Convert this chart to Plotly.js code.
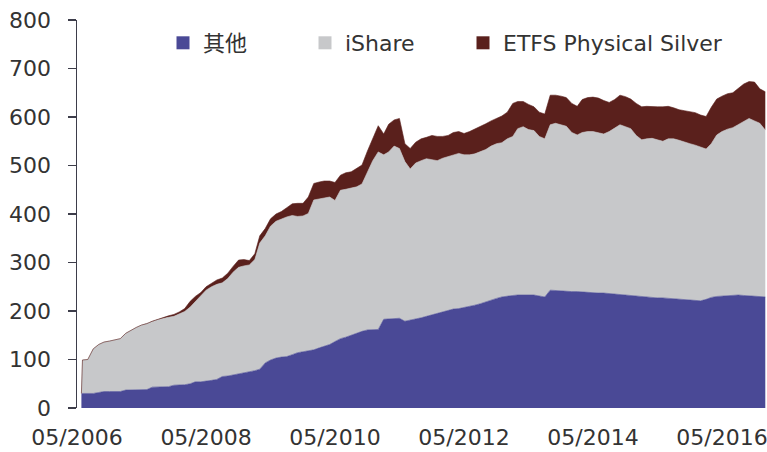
<!DOCTYPE html>
<html>
<head>
<meta charset="utf-8">
<script src="https://cdn.plot.ly/plotly-3.0.1.min.js"></script>
<style>html,body{margin:0;padding:0;background:#fff;}#chart{width:767px;height:452px;}</style>
</head>
<body>
<div id="chart"></div>
<script>
// Series names
const seriesNames = ['其他', 'iShare', 'ETFS Physical Silver'];

// Monthly observations from 2006-06 to 2017-01 (first entry: 2006-05-26 start)
const startDate = '2006-05-26';

// 其他 (others)
const others = [30,
  30,30,30,32,34,34,34,34,37,37,37,37,38,43,43,43,44,47,47,48,
  50,54,54,55,57,59,65,66,68,70,73,75,77,80,93,99,103,105,106,110,
  114,116,118,120,124,127,131,137,143,146,150,155,158,161,162,162,183,184,185,185,
  179,181,184,186,189,192,195,199,202,204,205,207,209,212,215,219,222,226,229,231,
  232,233,233,233,233,231,229,243,242,241,240,240,240,239,239,238,237,237,236,234,
  233,232,231,230,229,228,228,227,227,226,226,225,224,223,222,221,224,228,230,231,
  232,233,233,232,231,230,230,229];

// iShare
const ishare = [0,
  69,70,92,99,102,104,106,109,117,123,129,134,136,135,139,142,143,142,147,151,
  158,165,176,188,193,196,193,201,212,220,220,220,229,260,262,276,282,285,288,287,
  281,280,283,309,307,306,304,291,306,305,303,301,304,324,348,366,339,344,355,350,
  329,312,321,324,325,320,315,316,316,318,320,315,313,312,313,314,318,319,318,324,
  328,343,347,341,339,329,326,341,345,343,341,328,323,329,331,332,331,328,334,344,
  351,348,345,332,324,327,328,326,323,329,329,327,324,322,320,317,310,317,333,339,
  343,345,352,360,366,362,357,344];

// ETFS Physical Silver
const etfs = [0,
  0,0,0,0,0,0,0,0,0,0,0,0,0,1,1,2,3,4,4,6,
  12,11,8,7,8,9,10,11,12,15,13,9,12,15,15,15,15,15,19,24,
  27,26,34,34,35,35,33,37,31,34,34,39,39,45,45,54,43,57,54,62,
  37,42,43,45,44,50,50,45,44,46,45,44,48,51,53,53,52,52,55,55,
  68,56,52,52,49,50,51,61,58,59,59,60,59,68,70,71,71,69,60,58,
  61,62,61,66,68,67,65,68,71,67,64,63,65,66,67,66,67,75,74,73,
  73,72,75,76,76,80,71,79];

// x-axis ticks
const tickVals = ['2006-05-01','2008-05-01','2010-05-01','2012-05-01','2014-05-01','2016-05-01'];
const tickText = ['05/2006','05/2008','05/2010','05/2012','05/2014','05/2016'];

const colors = ['#4a4996', '#c7c8ca', '#5a201c'];

// Build date axis: start point, then first of each month from 2006-06
const dates = [startDate];
for (let i = 0; i < others.length - 1; i++) {
  const y = 2006 + Math.floor((5 + i) / 12);
  const mo = ((5 + i) % 12) + 1;
  dates.push(y + '-' + String(mo).padStart(2, '0') + '-01');
}

const FONT = 'DejaVu Sans, Noto Sans CJK SC, sans-serif';
const seriesData = [others, ishare, etfs];
const legends = ['legend', 'legend2', 'legend3'];

const traces = [];
seriesData.forEach((vals, k) => {
  traces.push({
    type: 'scatter', mode: 'lines', x: dates, y: vals,
    stackgroup: 'one', name: seriesNames[k],
    line: {color: colors[k], width: 0.6},
    fillcolor: colors[k], showlegend: false, hoverinfo: 'skip'
  });
});
seriesData.forEach((vals, k) => {
  traces.push({
    type: 'scatter', mode: 'markers', x: [null], y: [null],
    name: seriesNames[k], legend: legends[k],
    marker: {symbol: 'square', size: 13, color: colors[k]},
    showlegend: true
  });
});

const plotL = 77, plotR = 766;
const pw = plotR - plotL;
function lx(px) { return (px - plotL) / pw; }
const legY = (408 - 43) / 388;
const legCommon = (px) => ({
  orientation: 'h', x: lx(px), xanchor: 'left', y: legY, yanchor: 'middle',
  font: {family: FONT, size: 22, color: '#333333'},
  bgcolor: 'rgba(0,0,0,0)', borderwidth: 0
});

const layout = {
  width: 767, height: 452,
  margin: {l: plotL, r: 767 - plotR, t: 20, b: 44, pad: 0},
  paper_bgcolor: '#ffffff', plot_bgcolor: '#ffffff',
  font: {family: FONT, size: 22, color: '#333333'},
  xaxis: {
    type: 'date', range: ['2006-05-01', '2017-01-05'],
    tickvals: tickVals, ticktext: tickText,
    showgrid: false, zeroline: false, showline: false,
    ticks: 'outside', ticklen: 10, tickcolor: 'rgba(0,0,0,0)',
    ticklabeloverflow: 'allow',
    tickfont: {family: FONT, size: 22, color: '#333333'}
  },
  yaxis: {
    range: [0, 800], dtick: 100, tick0: 0,
    showgrid: false, zeroline: false, showline: true,
    linecolor: '#3d3d4a', linewidth: 1.5,
    ticks: 'outside', ticklen: 8, tickcolor: '#3d3d4a', tickwidth: 1.5,
    ticklabelstandoff: 12,
    tickfont: {family: FONT, size: 22, color: '#333333'}
  },
  legend: legCommon(163),
  legend2: legCommon(305),
  legend3: legCommon(463),
  showlegend: true
};

Plotly.newPlot('chart', traces, layout, {staticPlot: true, displayModeBar: false});
</script>
</body>
</html>
